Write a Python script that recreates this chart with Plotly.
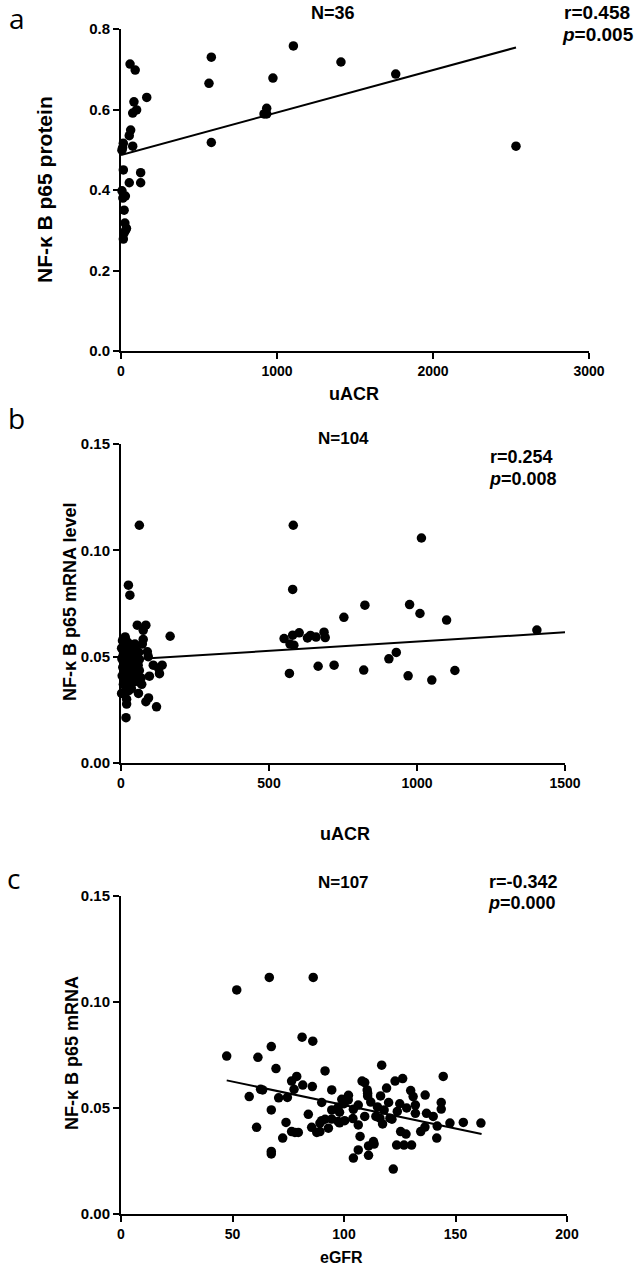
import plotly.graph_objects as go

# ---------------- Panel a data ----------------
a_x = [58, 91, 165, 83, 100, 75, 62, 53, 15, 75, 6, 15, 126, 53, 126, 6, 28,
       579, 564, 579, 1105, 974, 934, 917, 934, 1410, 1761, 2532,
       20, 25, 30, 20, 15, 10, 35, 12]
a_y = [0.713, 0.698, 0.630, 0.619, 0.599, 0.591, 0.549, 0.535, 0.516, 0.509, 0.499,
       0.450, 0.443, 0.418, 0.418, 0.398, 0.385,
       0.730, 0.665, 0.518, 0.758, 0.678, 0.603, 0.589, 0.589, 0.718, 0.688, 0.509,
       0.350, 0.318, 0.300, 0.293, 0.278, 0.505, 0.305, 0.380]
a_fit = {"intercept": 0.487, "slope": 1.055e-4, "x": [0, 2532]}

# ---------------- Panel b data ----------------
b_x = [62, 25, 30, 55, 84, 75, 166, 14, 75, 47, 10, 72, 89, 92, 62, 58, 109, 139, 127, 33,
       42, 96, 130, 62, 54, 62, 33, 59, 2, 19, 19, 84, 93, 120, 17,
       5, 12, 20, 8, 15, 25, 3, 10, 18, 28, 6, 14, 22, 30, 4, 12, 20, 28, 8, 16, 35, 45,
       40, 48, 55, 68, 70, 50, 38, 60, 24, 36, 2, 26, 11, 44, 6, 16, 32, 22, 40,
       582, 580, 551, 580, 602, 630, 571, 584, 569, 659, 686, 690, 666, 720, 753, 824,
       820, 905, 930, 975, 1010, 1015, 970, 1050, 1100, 1128, 1405, 640]
b_y = [0.1118, 0.0836, 0.0789, 0.0648, 0.0648, 0.0624, 0.0596, 0.0593, 0.0581, 0.0559,
       0.0560, 0.0559, 0.0523, 0.0500, 0.0487, 0.0460, 0.0460, 0.0460, 0.0445, 0.0460,
       0.0445, 0.0408, 0.0420, 0.0435, 0.0405, 0.0380, 0.0365, 0.0327, 0.0327, 0.0300,
       0.0277, 0.0288, 0.0306, 0.0264, 0.0213,
       0.0575, 0.0555, 0.0540, 0.0525, 0.0510, 0.0500, 0.0490, 0.0480, 0.0470, 0.0455,
       0.0450, 0.0440, 0.0430, 0.0420, 0.0410, 0.0400, 0.0390, 0.0380, 0.0370, 0.0360,
       0.0350, 0.0390, 0.0520, 0.0540, 0.0420, 0.0400, 0.0370, 0.0470, 0.0490, 0.0520,
       0.0565, 0.0555, 0.0540, 0.0340, 0.0330, 0.0430, 0.0500, 0.0580, 0.0510, 0.0475,
       0.0380,
       0.1118, 0.0816, 0.0585, 0.0601, 0.0612, 0.0588, 0.0559, 0.0554, 0.0421, 0.0592,
       0.0615, 0.0590, 0.0455, 0.0460, 0.0685, 0.0742, 0.0437, 0.0490, 0.0520, 0.0745,
       0.0703, 0.1058, 0.0410, 0.0390, 0.0672, 0.0435, 0.0625, 0.0600]
b_fit = {"intercept": 0.0484, "slope": 8.7e-6, "x": [0, 1500]}

# ---------------- Panel c data ----------------
c_x = [47.4, 61.4, 67.4, 81.2, 86.0, 69.5, 91.5, 116.9, 144.5, 126.3, 122.9, 108.1, 109.3,
       78.8, 76.5, 81.5, 85.8, 119.1, 94.5, 62.6, 63.5, 57.5, 70.7, 74.6, 77.6, 110.4,
       110.6, 129.9, 131.0, 136.4, 116.4, 99.0, 101.9, 90.0, 112.0, 120.0, 132.0, 143.6,
       143.6, 97.4, 94.5, 104.2, 106.4, 128.1, 123.9, 67.4, 60.8, 74.0, 76.5, 78.0, 79.5,
       72.5, 67.4, 67.4, 85.5, 87.8, 89.2, 93.0, 91.5, 94.5, 97.4, 100.3, 106.4, 107.2,
       106.4, 104.2, 111.0, 111.0, 113.2, 113.5, 109.3, 114.3, 116.1, 117.3, 120.6, 121.5,
       122.1, 123.6, 126.9, 130.3, 125.4, 127.8, 134.4, 136.3, 141.6, 141.8, 147.5, 153.5,
       161.4, 137.0, 89.2, 98.0, 110.6, 140.0, 100.0, 98.0, 104.0, 118.0, 90.0, 125.0,
       51.9, 66.5, 86.2, 132.0, 115.0, 102.0, 84.0]
c_y = [0.0745, 0.0739, 0.0790, 0.0834, 0.0815, 0.0686, 0.0675, 0.0702, 0.0649, 0.0639,
       0.0627, 0.0627, 0.0620, 0.0649, 0.0627, 0.0608, 0.0601, 0.0594, 0.0585, 0.0588,
       0.0585, 0.0554, 0.0548, 0.0550, 0.0588, 0.0585, 0.0557, 0.0582, 0.0554, 0.0561,
       0.0557, 0.0541, 0.0538, 0.0526, 0.0528, 0.0526, 0.0514, 0.0526, 0.0495, 0.0504,
       0.0491, 0.0494, 0.0514, 0.0500, 0.0484, 0.0491, 0.0409, 0.0432, 0.0389, 0.0385,
       0.0385, 0.0358, 0.0295, 0.0283, 0.0409, 0.0385, 0.0429, 0.0405, 0.0447, 0.0448,
       0.0436, 0.0440, 0.0420, 0.0366, 0.0302, 0.0264, 0.0277, 0.0321, 0.0342, 0.0330,
       0.0460, 0.0460, 0.0452, 0.0425, 0.0452, 0.0447, 0.0212, 0.0325, 0.0325, 0.0325,
       0.0389, 0.0377, 0.0389, 0.0410, 0.0358, 0.0415, 0.0429, 0.0432, 0.0429, 0.0475,
       0.0389, 0.0430, 0.0570, 0.0460, 0.0520, 0.0480, 0.0450, 0.0490, 0.0440, 0.0520,
       0.1057, 0.1116, 0.1116, 0.0475, 0.0505, 0.0560, 0.0470]
c_fit = {"intercept": 0.0735, "slope": -2.21e-4, "x": [47.4, 161.7]}

a_xticks = [0, 1000, 2000, 3000]
a_yticks = [0.0, 0.2, 0.4, 0.6, 0.8]
b_xticks = [0, 500, 1000, 1500]
b_yticks = [0.00, 0.05, 0.10, 0.15]
c_xticks = [0, 50, 100, 150, 200]
c_yticks = [0.00, 0.05, 0.10, 0.15]

W, H = 639, 1267
FONT = "Liberation Sans, Arial, sans-serif"


def px(xp):
    return xp / W


def py(yp):
    return 1 - yp / H


fig = go.Figure()

marker = dict(color="black", size=9.5, line=dict(width=0))
panels = [
    ("", a_x, a_y, a_fit),
    ("2", b_x, b_y, b_fit),
    ("3", c_x, c_y, c_fit),
]
for suf, xs, ys, fit in panels:
    fig.add_trace(go.Scatter(x=xs, y=ys, mode="markers", marker=marker,
                             xaxis="x" + suf, yaxis="y" + suf, showlegend=False,
                             cliponaxis=False, hoverinfo="skip"))
    lx = fit["x"]
    ly = [fit["intercept"] + fit["slope"] * v for v in lx]
    fig.add_trace(go.Scatter(x=lx, y=ly, mode="lines", line=dict(color="black", width=2),
                             xaxis="x" + suf, yaxis="y" + suf, showlegend=False,
                             cliponaxis=False, hoverinfo="skip"))


def axis(domain, rng, ticks, fmt, size, anchor):
    return dict(domain=domain, range=rng, tickvals=ticks, tickformat=fmt,
                showline=True, linecolor="black", linewidth=2, mirror=False,
                ticks="outside", ticklen=6, tickwidth=2, tickcolor="black",
                showgrid=False, zeroline=False, anchor=anchor, automargin=False,
                tickfont=dict(family=FONT, size=size, color="black", weight="bold"))


fig.update_layout(
    template="none",
    width=W, height=H, margin=dict(l=0, r=0, t=0, b=0, pad=0, autoexpand=False),
    paper_bgcolor="white", plot_bgcolor="white", showlegend=False,
    xaxis=axis([px(121), px(589)], [0, 3000], a_xticks, "d", 14, "y"),
    yaxis=axis([py(351), py(29)], [0, 0.8], a_yticks, ".1f", 15, "x"),
    xaxis2=axis([px(121), px(565)], [0, 1500], b_xticks, "d", 14, "y2"),
    yaxis2=axis([py(763), py(444)], [0, 0.15], b_yticks, ".2f", 15, "x2"),
    xaxis3=axis([px(121), px(567)], [0, 200], c_xticks, "d", 14, "y3"),
    yaxis3=axis([py(1214), py(896)], [0, 0.15], c_yticks, ".2f", 15, "x3"),
)


def txt(x, y, text, size, bold=True, angle=0, xanchor="center", family=FONT):
    fig.add_annotation(x=px(x), y=py(y), xref="paper", yref="paper", text=text,
                       showarrow=False, xanchor=xanchor, yanchor="middle",
                       textangle=angle,
                       font=dict(family=family, size=size, color="black",
                                 weight="bold" if bold else "normal"))


LBL = "Open Sans, Noto Sans, sans-serif"
# panel letters
txt(17, 18, "a", 28, bold=False, family=LBL)
txt(16, 418, "b", 28, bold=False, family=LBL)
txt(13, 878, "c", 28, bold=False, family=LBL)

# panel a texts
txt(333, 13, "N=36", 18)
txt(562, 12, "r=0.458", 19, xanchor="left")
txt(560, 34, "<i>p</i>=0.005", 19, xanchor="left")
txt(354, 394, "uACR", 18)
txt(45, 190, "NF-κ B p65 protein", 21, angle=-90)

# panel b texts
txt(343, 438, "N=104", 17)
txt(488, 457, "r=0.254", 18, xanchor="left")
txt(487, 479, "<i>p</i>=0.008", 18, xanchor="left")
txt(345, 834, "uACR", 18)
txt(70, 602, "NF-κ B p65 mRNA level", 18, angle=-90)

# panel c texts
txt(343, 882, "N=107", 17)
txt(487, 882, "r=-0.342", 18, xanchor="left")
txt(486, 903, "<i>p</i>=0.000", 18, xanchor="left")
txt(342, 1257, "eGFR", 16)
txt(72, 1053, "NF-κ B p65 mRNA", 18, angle=-90)

fig.write_html("out.html",
               config={"displayModeBar": False, "staticPlot": True},
               post_script="document.body.style.margin='0';document.body.style.overflow='hidden';")
